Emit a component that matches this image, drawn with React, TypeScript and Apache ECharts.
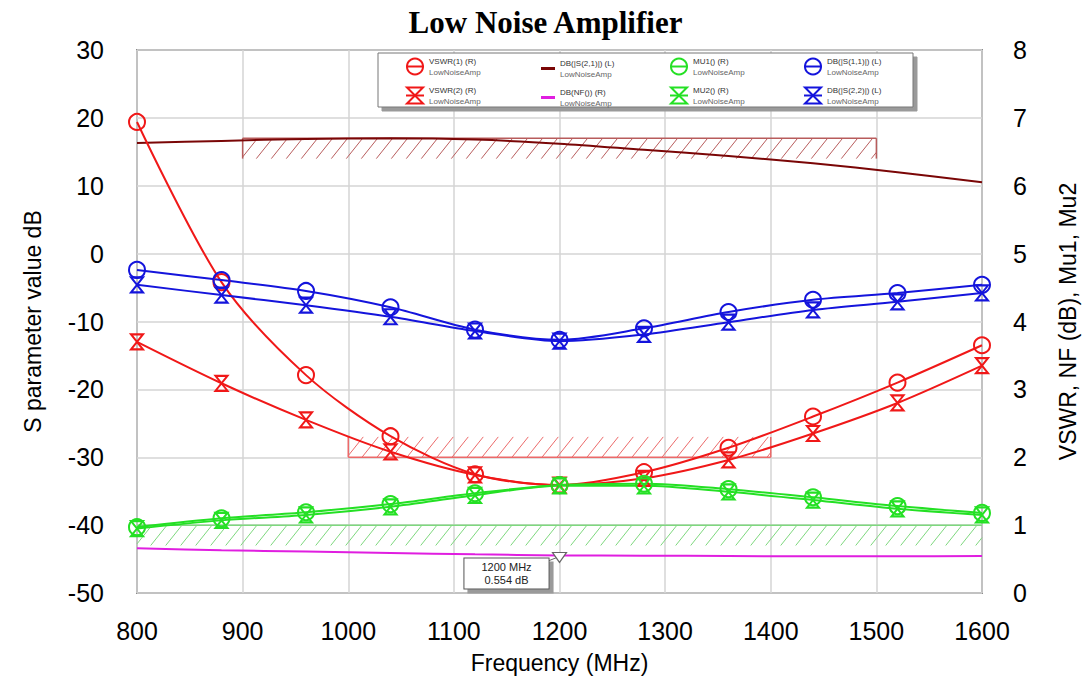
import React, { useEffect, useRef } from "react";
import * as echarts from "echarts";

// Sweep frequencies (MHz) at which the circuit was simulated
const freq = [800, 880, 960, 1040, 1120, 1200, 1280, 1360, 1440, 1520, 1600];

// Right axis traces
const vswr1 = [6.94, 4.58, 3.21, 2.31, 1.75, 1.59, 1.78, 2.14, 2.6, 3.1, 3.65];
const vswr2 = [3.7, 3.09, 2.55, 2.08, 1.74, 1.59, 1.69, 1.96, 2.35, 2.8, 3.35];
const mu1 = [0.97, 1.1, 1.19, 1.31, 1.47, 1.59, 1.61, 1.53, 1.41, 1.28, 1.18];
const mu2 = [0.95, 1.07, 1.15, 1.27, 1.44, 1.58, 1.58, 1.49, 1.37, 1.24, 1.15];
const nf = [0.66, 0.63, 0.61, 0.59, 0.57, 0.554, 0.55, 0.545, 0.54, 0.54, 0.545];

// Left axis traces (dB)
const s21 = [16.3, 16.6, 16.9, 17.0, 16.8, 16.2, 15.3, 14.4, 13.3, 12.0, 10.5];
const s11 = [-2.4, -3.9, -5.5, -7.9, -11.2, -12.7, -11.0, -8.6, -6.8, -5.8, -4.6];
const s22 = [-4.6, -6.1, -7.6, -9.3, -11.4, -12.9, -11.9, -10.1, -8.3, -7.1, -5.8];

// Optimisation goals: [fStart, fStop, low, high]
const goalGain = [[900, 1500, 14, 17]];
const goalVswr = [[1000, 1400, 2, 2.3]];
const goalMu = [[800, 1600, 0.7, 1.0]];

// Marker placed on the noise-figure trace
const markerIndex = 5;

const leftTicks = { min: -50, max: 30, interval: 10 };
const rightTicks = { min: 0, max: 8, interval: 1 };
const xTicks = { min: 800, max: 1600, interval: 100 };

const RED = "#f01818";
const BLUE = "#1414dc";
const GREEN = "#24e024";
const MAGENTA = "#e01ee0";
const DARKRED = "#7a0606";

const HOURGLASS = "path://M0,0L12,0L0,16L12,16Z";

const pairs = (ys: number[]) => freq.map((f, i) => [f, ys[i]]);

function hatchRenderer(color: string, edges: string[]) {
  return (params: any, api: any) => {
    const x0 = api.value(0);
    const x1 = api.value(1);
    const y0 = api.value(2);
    const y1 = api.value(3);
    const tl = api.coord([x0, y1]);
    const br = api.coord([x1, y0]);
    const left = tl[0];
    const top = tl[1];
    const right = br[0];
    const bottom = br[1];
    const h = bottom - top;
    const w = h * 0.8;
    const step = 15;
    const children: any[] = [];
    for (let k = left - w; k < right; k += step) {
      const t0 = Math.max(0, (left - k) / w);
      const t1 = Math.min(1, (right - k) / w);
      if (t1 <= t0) continue;
      children.push({
        type: "line",
        shape: { x1: k + t0 * w, y1: bottom - t0 * h, x2: k + t1 * w, y2: bottom - t1 * h },
        style: { stroke: color, lineWidth: 1 },
      });
    }
    const edgeStyle = { stroke: color, lineWidth: 1.5 };
    if (edges.includes("top"))
      children.push({ type: "line", shape: { x1: left, y1: top, x2: right, y2: top }, style: edgeStyle });
    if (edges.includes("bottom"))
      children.push({ type: "line", shape: { x1: left, y1: bottom, x2: right, y2: bottom }, style: edgeStyle });
    if (edges.includes("left"))
      children.push({ type: "line", shape: { x1: left, y1: top, x2: left, y2: bottom }, style: edgeStyle });
    if (edges.includes("right"))
      children.push({ type: "line", shape: { x1: right, y1: top, x2: right, y2: bottom }, style: edgeStyle });
    return { type: "group", children };
  };
}

function traceSeries(
  name: string,
  ys: number[],
  color: string,
  yAxisIndex: number,
  symbol: string,
  symbolSize: any
) {
  return {
    name,
    type: "line",
    yAxisIndex,
    data: pairs(ys),
    smooth: 0.3,
    symbol,
    symbolSize,
    showSymbol: symbol !== "none",
    lineStyle: { color, width: 2 },
    itemStyle: { color: "rgba(255,255,255,0)", borderColor: color, borderWidth: 2 },
    emphasis: { disabled: true },
    z: 3,
  };
}

const legendCols = [400, 536, 664, 798];
const legendRows = [52, 81];
const legendNames = [
  ["VSWR(1) (R)", "DB(|S(2,1)|) (L)", "MU1() (R)", "DB(|S(1,1)|) (L)"],
  ["VSWR(2) (R)", "DB(NF()) (R)", "MU2() (R)", "DB(|S(2,2)|) (L)"],
];
const legendLineColors: Record<string, string> = {
  "DB(|S(2,1)|) (L)": DARKRED,
  "DB(NF()) (R)": MAGENTA,
};

export default function App() {
  const ref = useRef<HTMLDivElement>(null);

  useEffect(() => {
    if (!ref.current) return;
    const chart = echarts.init(ref.current, null, { renderer: "svg" });

    const legends: any[] = [];
    legendNames.forEach((row, r) =>
      row.forEach((name, c) => {
        const plainLine = c === 1;
        legends.push({
          data: plainLine
            ? [{ name, icon: "rect", itemStyle: { color: legendLineColors[name], borderWidth: 0 } }]
            : [name],
          left: legendCols[c],
          top: plainLine ? legendRows[r] + 2 : legendRows[r],
          itemWidth: plainLine ? 14 : 18,
          itemHeight: plainLine ? 3 : 20,
          selectedMode: false,
          z: 20,
          formatter: (n: string) => `{a|${n}}\n{b|LowNoiseAmp}`,
          textStyle: {
            rich: {
              a: { fontSize: 8, lineHeight: 11, color: "#333", fontFamily: "Liberation Sans" },
              b: { fontSize: 8, lineHeight: 11, color: "#666", fontFamily: "Liberation Sans" },
            },
          },
        });
      })
    );

    const axisLabelFont = { fontSize: 25, color: "#000", fontFamily: "Liberation Sans" };
    const axisNameFont = { fontSize: 23, color: "#000", fontFamily: "Liberation Sans" };

    const option: any = {
      animation: false,
      backgroundColor: "#fff",
      title: {
        text: "Low Noise Amplifier",
        left: "center",
        top: 2,
        textStyle: { fontFamily: "Liberation Serif", fontWeight: "bold", fontSize: 31, color: "#000" },
      },
      legend: legends,
      grid: {
        left: 137,
        top: 50,
        right: 109,
        bottom: 98,
        show: true,
        borderColor: "#8c8c8c",
        borderWidth: 2,
        backgroundColor: "#fff",
      },
      graphic: [
        {
          type: "rect",
          z: 10,
          shape: { x: 378, y: 53, width: 535, height: 54 },
          style: {
            fill: "#fff",
            stroke: "#777",
            lineWidth: 1,
            shadowColor: "#9a9a9a",
            shadowOffsetX: 4,
            shadowOffsetY: 4,
            shadowBlur: 0,
          },
        },
      ],
      xAxis: {
        type: "value",
        ...xTicks,
        name: "Frequency (MHz)",
        nameLocation: "middle",
        nameGap: 58,
        nameTextStyle: axisNameFont,
        axisLine: { show: false },
        axisTick: { show: false },
        axisLabel: { ...axisLabelFont, margin: 25, formatter: (v: number) => String(v) },
        splitLine: { show: true, lineStyle: { color: "#d4d4d4", width: 1.5 } },
      },
      yAxis: [
        {
          type: "value",
          ...leftTicks,
          name: "S parameter value dB",
          nameLocation: "middle",
          nameGap: 93,
          nameTextStyle: axisNameFont,
          axisLine: { show: false },
          axisTick: { show: false },
          axisLabel: { ...axisLabelFont, margin: 33 },
          splitLine: { show: true, lineStyle: { color: "#d4d4d4", width: 1.5 } },
        },
        {
          type: "value",
          ...rightTicks,
          position: "right",
          name: "VSWR, NF (dB), Mu1, Mu2",
          nameLocation: "middle",
          nameGap: 74,
          nameTextStyle: axisNameFont,
          axisLine: { show: false },
          axisTick: { show: false },
          axisLabel: { ...axisLabelFont, margin: 31 },
          splitLine: { show: false },
        },
      ],
      series: [
        {
          type: "custom",
          yAxisIndex: 0,
          silent: true,
          z: 1,
          data: goalGain,
          encode: { x: [0, 1], y: [2, 3] },
          renderItem: hatchRenderer("#b85c5c", ["top", "left", "right"]),
        },
        {
          type: "custom",
          yAxisIndex: 1,
          silent: true,
          z: 1,
          data: goalVswr,
          encode: { x: [0, 1], y: [2, 3] },
          renderItem: hatchRenderer("#ec6a6a", ["bottom", "left", "right"]),
        },
        {
          type: "custom",
          yAxisIndex: 1,
          silent: true,
          z: 1,
          data: goalMu,
          encode: { x: [0, 1], y: [2, 3] },
          renderItem: hatchRenderer("#7ed87e", ["top"]),
        },
        traceSeries("DB(|S(2,1)|) (L)", s21, DARKRED, 0, "none", 0),
        {
          ...traceSeries("DB(NF()) (R)", nf, MAGENTA, 1, "none", 0),
          markPoint: {
            silent: true,
            symbol: "path://M0,0L14,0L7,10Z",
            symbolSize: [14, 10],
            symbolOffset: [0, 2],
            itemStyle: { color: "#fff", borderColor: "#666", borderWidth: 1.2 },
            label: {
              show: true,
              position: "inside",
              offset: [-53, 16],
              formatter: `${freq[markerIndex]} MHz\n${nf[markerIndex]} dB`,
              fontSize: 11,
              lineHeight: 13,
              color: "#222",
              fontFamily: "Liberation Sans",
              backgroundColor: "#fff",
              borderColor: "#555",
              borderWidth: 1,
              padding: [2, 17, 2, 17],
              shadowColor: "#9a9a9a",
              shadowOffsetX: 4,
              shadowOffsetY: 4,
              shadowBlur: 0,
            },
            data: [{ coord: [freq[markerIndex], nf[markerIndex]] }],
          },
          markLine: {
            silent: true,
            symbol: "none",
            label: { show: false },
            lineStyle: { color: "#666", width: 1, type: "solid" },
            data: [[{ coord: [1189, 0.47] }, { coord: [1197, 0.52] }]],
          },
        },
        traceSeries("VSWR(1) (R)", vswr1, RED, 1, "circle", 16),
        traceSeries("VSWR(2) (R)", vswr2, RED, 1, HOURGLASS, [12, 15]),
        traceSeries("MU1() (R)", mu1, GREEN, 1, "circle", 16),
        traceSeries("MU2() (R)", mu2, GREEN, 1, HOURGLASS, [12, 15]),
        traceSeries("DB(|S(1,1)|) (L)", s11, BLUE, 0, "circle", 16),
        traceSeries("DB(|S(2,2)|) (L)", s22, BLUE, 0, HOURGLASS, [12, 15]),
      ],
    };

    chart.setOption(option);
    return () => chart.dispose();
  }, []);

  return (
    <div
      ref={ref}
      style={{ position: "fixed", left: 0, top: 0, width: 1091, height: 691, background: "#fff" }}
    />
  );
}
